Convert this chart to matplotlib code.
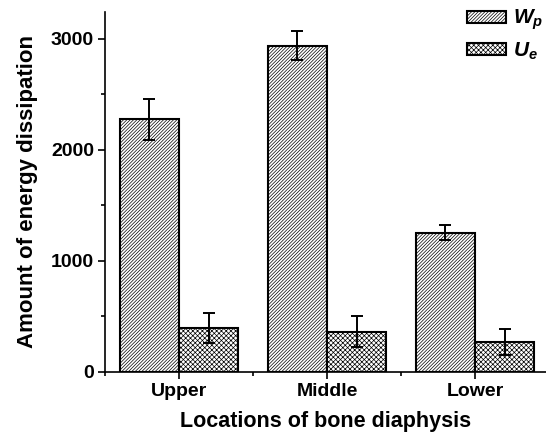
import matplotlib.pyplot as plt
import numpy as np
from matplotlib.ticker import MultipleLocator

plt.rcParams['font.family'] = ['Liberation Sans', 'DejaVu Sans']
plt.rcParams['mathtext.fontset'] = 'custom'
plt.rcParams['mathtext.it'] = 'Liberation Sans:italic:bold'
plt.rcParams['mathtext.rm'] = 'Liberation Sans:bold'
plt.rcParams['hatch.linewidth'] = 0.5

# values
locations = ['Upper', 'Middle', 'Lower']
wp = [2272, 2937, 1252]
wp_err = [188, 130, 68]
ue = [391, 362, 268]
ue_err = [135, 140, 118]

x = np.arange(1, len(locations) + 1)
w = 0.4

fig = plt.figure(figsize=(5.46, 4.41), dpi=100)
ax = fig.add_axes([0.1923, 0.157, 0.8077, 0.8158])

err_kw = dict(ecolor='black', elinewidth=1.4, capsize=4.2, capthick=1.4)
ax.bar(x - w / 2, wp, w, yerr=wp_err, color='white', edgecolor='black',
       linewidth=1.5, hatch='/' * 10, label=r'$W_p$', error_kw=err_kw)
ax.bar(x + w / 2, ue, w, yerr=ue_err, color='white', edgecolor='black',
       linewidth=1.5, hatch='x' * 7, label=r'$U_e$', error_kw=err_kw)

ax.set_xlim(0.5, 0.5 + 441 / 148)
ax.set_ylim(0, 3240)
ax.set_xticks(x)
ax.set_xticklabels(locations)
ax.xaxis.set_minor_locator(MultipleLocator(1.0, offset=0.5))
ax.yaxis.set_major_locator(MultipleLocator(1000))
ax.yaxis.set_minor_locator(MultipleLocator(500))

for s in ['top', 'right']:
    ax.spines[s].set_visible(False)
for s in ['left', 'bottom']:
    ax.spines[s].set_linewidth(1.2)

ax.tick_params(which='major', direction='out', length=5, width=1.2,
               labelsize=14, pad=3)
ax.tick_params(which='minor', direction='out', length=3, width=1.2)
for lab in ax.get_xticklabels() + ax.get_yticklabels():
    lab.set_fontweight('bold')

ax.set_xlabel('Locations of bone diaphysis', fontsize=15.5, fontweight='bold',
              labelpad=8)
ax.set_ylabel('Amount of energy dissipation', fontsize=16, fontweight='bold',
              labelpad=9)

ax.legend(loc='upper right', bbox_to_anchor=(1.027, 1.052), frameon=False,
          fontsize=15, handlelength=1.85, handleheight=0.5,
          handletextpad=0.35, labelspacing=0.4, borderpad=0.2)

fig.savefig('out.png', dpi=100)
